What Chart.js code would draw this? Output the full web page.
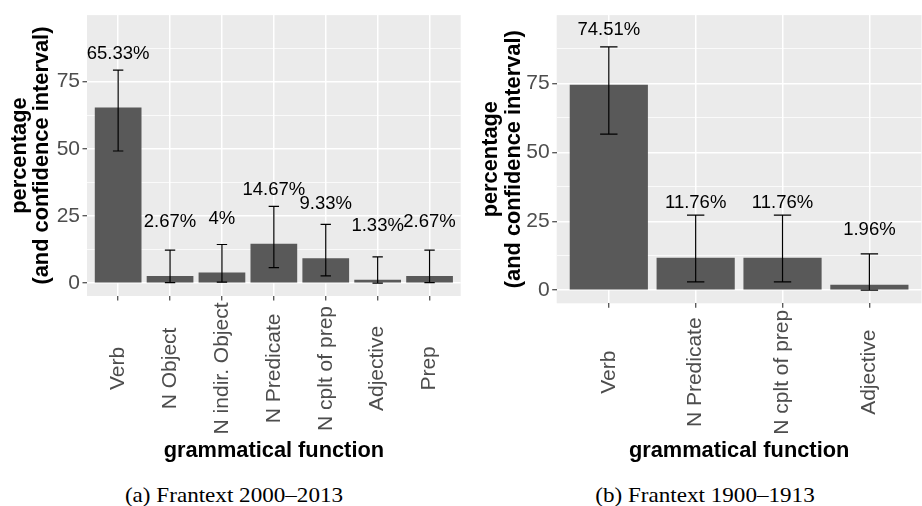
<!DOCTYPE html>
<html>
<head>
<meta charset="utf-8">
<script src="https://cdn.jsdelivr.net/npm/chart.js@4/dist/chart.umd.min.js"></script>
<style>
  body { margin: 0; background: #fff; width: 922px; height: 506px; overflow: hidden; position: relative; }
  canvas { position: absolute; top: 0; }
  #chartA { left: 0; }
  #chartB { left: 461px; }
  .caption { position: absolute; top: 482px; width: 300px; text-align: center;
             font-family: "Liberation Serif", serif; font-size: 21px; color: #000;
             line-height: 26px; transform: scaleX(1.1); }
</style>
</head>
<body>
<canvas id="chartA" width="461" height="470"></canvas>
<canvas id="chartB" width="461" height="470"></canvas>
<div class="caption" style="left:84px">(a) Frantext 2000–2013</div>
<div class="caption" style="left:555px">(b) Frantext 1900–1913</div>
<script>
// panel (a) Frantext 2000-2013
var catsA = ['Verb', 'N Object', 'N indir. Object', 'N Predicate', 'N cplt of prep', 'Adjective', 'Prep'];
var pctA = [65.33, 2.67, 4, 14.67, 9.33, 1.33, 2.67];
var lowA = [49.2, 0.2, 0.4, 5.8, 2.7, 0.05, 0.2];
var highA = [79.3, 12.3, 14.4, 28.6, 21.9, 9.8, 12.3];

// panel (b) Frantext 1900-1913
var catsB = ['Verb', 'N Predicate', 'N cplt of prep', 'Adjective'];
var pctB = [74.51, 11.76, 11.76, 1.96];
var lowB = [56.6, 3.0, 3.0, 0.05];
var highB = [88.2, 27.2, 27.2, 13.2];

var yTicks = [0, 12.5, 25, 37.5, 50, 62.5, 75, 87.5];

var SANS = '"Liberation Sans", Arial, sans-serif';
var LABEL_NUDGE = 20; // text sits 20 points above the bar top

function makePanel(id, cats, pct, low, high, lay) {
  var ctx = document.getElementById(id).getContext('2d');

  var extras = {
    id: 'extras_' + id,
    beforeDraw: function (chart) {
      var a = chart.chartArea;
      var c = chart.ctx;
      c.save();
      c.fillStyle = '#EBEBEB';
      c.fillRect(a.left, a.top, a.right - a.left, a.bottom - a.top);
      c.restore();
    },
    afterDatasetsDraw: function (chart) {
      var c = chart.ctx;
      var xs = chart.scales.x, ys = chart.scales.y;
      var step = xs.getPixelForValue(1) - xs.getPixelForValue(0);
      var cap = step * 0.1;
      c.save();
      c.strokeStyle = '#000';
      c.lineWidth = 1.2;
      for (var i = 0; i < cats.length; i++) {
        var x = xs.getPixelForValue(i);
        var yl = ys.getPixelForValue(low[i]);
        var yh = ys.getPixelForValue(high[i]);
        c.beginPath();
        c.moveTo(x, yl); c.lineTo(x, yh);
        c.moveTo(x - cap, yl); c.lineTo(x + cap, yl);
        c.moveTo(x - cap, yh); c.lineTo(x + cap, yh);
        c.stroke();
      }
      // percentage labels
      c.fillStyle = '#000';
      c.font = '18.5px ' + SANS;
      c.textAlign = 'center';
      c.textBaseline = 'middle';
      for (var j = 0; j < cats.length; j++) {
        var txt = parseFloat(pct[j].toFixed(2)) + '%';
        c.fillText(txt, xs.getPixelForValue(j), ys.getPixelForValue(pct[j] + LABEL_NUDGE));
      }
      c.restore();
    },
    afterDraw: function (chart) {
      // x tick labels, rotated and centred like ggplot hjust = 0.5
      var c = chart.ctx;
      var xs = chart.scales.x;
      c.save();
      c.font = '21px ' + SANS;
      var maxW = 0;
      cats.forEach(function (t) { maxW = Math.max(maxW, c.measureText(t).width); });
      var yc = chart.chartArea.bottom + 6.5 + maxW / 2;
      c.fillStyle = '#4D4D4D';
      c.textAlign = 'center';
      c.textBaseline = 'middle';
      cats.forEach(function (t, i) {
        c.save();
        c.translate(xs.getPixelForValue(i), yc);
        c.rotate(-Math.PI / 2);
        c.fillText(t, 0, 0);
        c.restore();
      });
      c.restore();
    }
  };

  return new Chart(ctx, {
    type: 'bar',
    data: {
      datasets: [{
        data: pct.map(function (v, i) { return { x: i, y: v }; }),
        backgroundColor: '#595959',
        borderWidth: 0,
        barPercentage: 0.9,
        categoryPercentage: 1
      }]
    },
    options: {
      responsive: false,
      animation: false,
      devicePixelRatio: 1,
      layout: { padding: { top: 13, left: lay.padLeft, right: lay.padRight, bottom: 5.7 } },
      plugins: { legend: { display: false }, tooltip: { enabled: false } },
      scales: {
        x: {
          type: 'linear',
          min: -0.6,
          max: cats.length - 1 + 0.6,
          offset: false,
          afterBuildTicks: function (s) { s.ticks = cats.map(function (_, i) { return { value: i }; }); },
          afterFit: function (s) { s.height = lay.xHeight; },
          grid: { offset: false, color: '#FFFFFF', lineWidth: 1.5, tickLength: 4.5, tickColor: '#333333', tickWidth: 1.1 },
          border: { display: false },
          ticks: { display: false },
          title: {
            display: true,
            text: 'grammatical function',
            color: '#000',
            font: { family: SANS, size: 21.8, weight: 'bold' },
            padding: { top: 0, bottom: 0 }
          }
        },
        y: {
          min: -4.75,
          max: 99.75,
          afterBuildTicks: function (s) { s.ticks = yTicks.map(function (v) { return { value: v }; }); },
          afterFit: function (s) { s.width = lay.yWidth; },
          grid: {
            color: '#FFFFFF',
            lineWidth: function (c) { return c.tick && c.tick.value % 25 === 0 ? 1.5 : 0.75; },
            tickLength: 4.5,
            tickWidth: 1.1,
            tickColor: function (c) { return c.tick && c.tick.value % 25 === 0 ? '#333333' : 'rgba(0,0,0,0)'; }
          },
          border: { display: false },
          ticks: {
            color: '#4D4D4D',
            padding: 2.5,
            font: { family: SANS, size: 21 },
            callback: function (v) { return v % 25 === 0 ? v : ''; }
          },
          title: {
            display: true,
            text: ['percentage', '(and confidence interval)'],
            color: '#000',
            font: { family: SANS, size: 21.8, weight: 'bold', lineHeight: 1.02 },
            padding: { top: 8.5, bottom: 0 }
          }
        }
      }
    },
    plugins: [extras]
  });
}

makePanel('chartA', catsA, pctA, lowA, highA, { padLeft: 0, padRight: 0.3, yWidth: 87, xHeight: 168.3 });
makePanel('chartB', catsB, pctB, lowB, highB, { padLeft: 10.7, padRight: 0.5, yWidth: 85, xHeight: 161 });
</script>
</body>
</html>
